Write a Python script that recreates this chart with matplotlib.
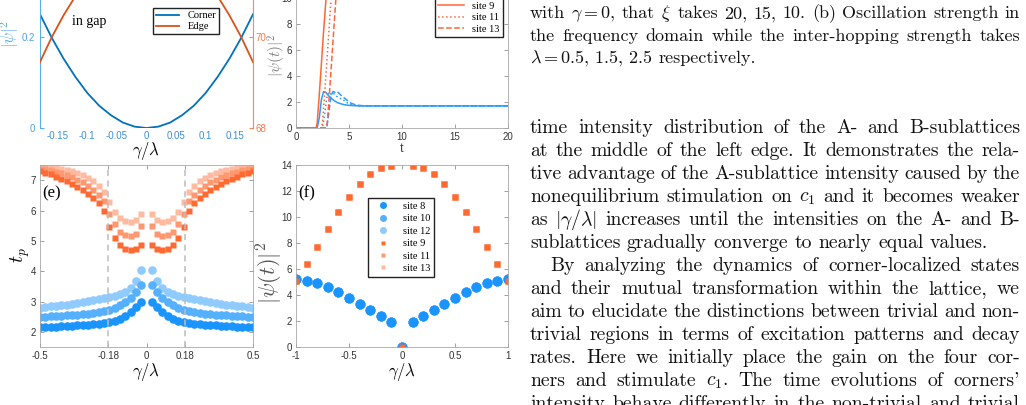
import matplotlib
matplotlib.use('Agg')

import numpy as np
import matplotlib.pyplot as plt

plt.rcParams['font.family'] = 'Liberation Sans'
plt.rcParams['mathtext.fontset'] = 'cm'
plt.rcParams['axes.unicode_minus'] = False

W, H = 1026, 405

# corner / edge states versus gamma/lambda (top left)
gam_d = np.array([-0.18, -0.16, -0.14, -0.12, -0.10, -0.08, -0.06, -0.04, -0.02, 0.0,
                  0.02, 0.04, 0.06, 0.08, 0.10, 0.12, 0.14, 0.16, 0.18])
corner = np.array([0.25, 0.198, 0.152, 0.112, 0.077, 0.049, 0.028, 0.012, 0.003, 0.0,
                   0.003, 0.012, 0.028, 0.049, 0.077, 0.112, 0.152, 0.198, 0.25])
edge = np.array([69.45, 70.0, 70.48, 70.9, 71.26, 71.55, 71.78, 71.94, 72.04, 72.07,
                 72.04, 71.94, 71.78, 71.55, 71.26, 70.9, 70.48, 70.0, 69.45])

# time evolution (top middle)
t8 = [0, 2.0, 2.2, 2.4, 2.6, 2.8, 3.0, 3.3, 3.6, 4.0, 4.5, 5.0, 6.0, 8, 20]
v8 = [0, 0, 0.8, 2.2, 2.8, 2.75, 2.55, 2.3, 2.1, 1.92, 1.8, 1.74, 1.7, 1.7, 1.7]
t10 = [0, 2.5, 2.7, 2.9, 3.1, 3.3, 3.5, 3.8, 4.1, 4.4, 4.8, 5.3, 6, 20]
v10 = [0, 0, 1.0, 2.3, 2.75, 2.6, 2.7, 2.45, 2.3, 2.2, 1.95, 1.78, 1.7, 1.7]
t12 = [0, 2.9, 3.1, 3.3, 3.5, 3.7, 3.9, 4.2, 4.5, 4.8, 5.2, 5.7, 6.5, 20]
v12 = [0, 0, 1.2, 2.5, 2.8, 2.75, 2.8, 2.55, 2.35, 2.15, 1.9, 1.76, 1.7, 1.7]
t9 = [0, 1.9, 2.0, 2.2, 2.4, 2.6, 2.8, 3.0, 3.2, 3.5, 4, 20]
v9 = [0, 0, 0.4, 2.6, 5.0, 7.4, 9.6, 11.5, 13.0, 14.0, 14.5, 14.5]
t11 = [0, 2.4, 2.5, 2.7, 2.9, 3.1, 3.3, 3.5, 3.8, 4.2, 20]
v11 = [0, 0, 0.4, 2.6, 5.0, 7.4, 9.8, 11.8, 13.5, 14.3, 14.5]
t13 = [0, 2.85, 2.95, 3.15, 3.35, 3.55, 3.75, 3.95, 4.2, 4.6, 20]
v13 = [0, 0, 0.4, 2.6, 5.0, 7.4, 9.8, 11.8, 13.5, 14.3, 14.5]

# (e) t_p, half side gamma = 0.025 ... 0.5 (mirrored to negative side)
gam_e = np.arange(1, 21) * 0.025
tp_b1 = [3.00, 2.82, 2.65, 2.52, 2.43, 2.36, 2.31, 2.28, 2.26, 2.25,
         2.23, 2.22, 2.21, 2.20, 2.19, 2.18, 2.17, 2.17, 2.16, 2.16]
tp_b2 = [3.53, 3.30, 3.10, 2.97, 2.87, 2.79, 2.73, 2.69, 2.65, 2.62,
         2.60, 2.58, 2.56, 2.55, 2.54, 2.53, 2.52, 2.51, 2.50, 2.50]
tp_b3 = [4.05, 3.68, 3.45, 3.32, 3.24, 3.19, 3.15, 3.12, 3.08, 3.05,
         3.02, 2.99, 2.96, 2.93, 2.90, 2.88, 2.86, 2.84, 2.82, 2.80]
tp_o1 = [4.87, 4.72, 4.70, 4.72, 4.85, 5.10, 5.45, 6.00, 6.25, 6.42,
         6.55, 6.67, 6.78, 6.88, 6.97, 7.05, 7.12, 7.19, 7.25, 7.30]
tp_o2 = [5.48, 5.22, 5.15, 5.18, 5.30, 5.55, 5.88, 6.30, 6.52, 6.68,
         6.82, 6.93, 7.02, 7.10, 7.17, 7.23, 7.28, 7.32, 7.36, 7.38]
tp_o3 = [5.90, 5.68, 5.62, 5.65, 5.75, 5.95, 6.28, 6.62, 6.82, 6.97,
         7.08, 7.17, 7.24, 7.30, 7.34, 7.37, 7.40, 7.42, 7.43, 7.44]

# (f) intensity versus gamma/lambda
gam_f = np.round(np.arange(-10, 11) * 0.1, 1)
int_blue = [5.25, 5.1, 4.9, 4.6, 4.2, 3.75, 3.3, 2.85, 2.35, 1.9, 0.0,
            1.9, 2.35, 2.85, 3.3, 3.75, 4.2, 4.6, 4.9, 5.1, 5.25]
int_orange = [5.1, 6.4, 7.7, 9.05, 10.35, 11.55, 12.55, 13.3, 13.8, 13.95, 0.0,
              13.95, 13.8, 13.3, 12.55, 11.55, 10.35, 9.05, 7.7, 6.4, 5.1]

blues = ['#1a94ff', '#55b0ff', '#8fcbff']
oranges = ['#ff6a33', '#ff9870', '#ffbba0']


def fx(x):
    return x / W


def fy(y):
    return 1 - y / H


def box_style(ax):
    for s in ax.spines.values():
        s.set_color('#a8a8a8')
        s.set_linewidth(0.6)
    ax.tick_params(direction='in', length=3, width=0.6, color='#909090',
                   labelsize=7, labelcolor='#333333', top=True, right=True, pad=3)


fig = plt.figure(figsize=(W / 100, H / 100), dpi=100)
serif = {'family': 'Liberation Serif', 'size': 7.5}

# ---- top left: corner / edge ----
axA = fig.add_axes([fx(40), fy(128), 213 / W, 182 / H])
lc, = axA.plot(gam_d, corner, color='#0072BD', lw=1.3)
axA.set_xlim(-0.18, 0.18)
axA.set_ylim(0, 0.4)
axA2 = axA.twinx()
le, = axA2.plot(gam_d, edge, color='#D95319', lw=1.3)
axA2.set_ylim(68, 72)
for s in ['top', 'bottom', 'right']:
    axA.spines[s].set_visible(False)
for s in ['top', 'bottom', 'left']:
    axA2.spines[s].set_visible(False)
axA.spines['left'].set_color('#5aaee6')
axA2.spines['right'].set_color('#f08a5d')
axA.set_yticks([0, 0.2], ['0', '0.2'])
axA.tick_params(axis='y', direction='in', length=3, color='#5aaee6', labelcolor='#4aa3e3', labelsize=7)
axA2.set_yticks([68, 70], ['68', '70'])
axA2.tick_params(axis='y', direction='in', length=3, color='#f08a5d', labelcolor='#ef7a4c',
                 labelsize=7, pad=2)
axA.set_xticks([-0.15, -0.1, -0.05, 0, 0.05, 0.1, 0.15],
               ['-0.15', '-0.1', '-0.05', '0', '0.05', '0.1', '0.15'])
axA.tick_params(axis='x', length=0, labelsize=7, labelcolor='#3b8fd6', pad=2)
axA2.legend([lc, le], ['Corner', 'Edge'], loc='upper left', bbox_to_anchor=(fx(153), fy(8)),
            bbox_transform=fig.transFigure, prop=serif, fancybox=False, edgecolor='#222222',
            framealpha=1, borderaxespad=0, handlelength=2.2, borderpad=0.3, labelspacing=0.15)
fig.text(fx(72), fy(22), 'in gap', family='Liberation Serif', size=10, va='center')
fig.text(fx(10), fy(34), r'$|\psi|^2$', rotation=90, color='#5aaee6', size=12, ha='center', va='center')
fig.text(fx(146), fy(151), r'$\gamma/\lambda$', size=12, ha='center', va='center')

# ---- top middle: time evolution ----
axB = fig.add_axes([fx(296), fy(128), 212 / W, 208 / H])
axB.plot(t8, v8, color='#2a9cff', lw=1.1, label='site 8')
axB.plot(t10, v10, color='#2a9cff', lw=1.1, ls=':', label='site 10')
axB.plot(t12, v12, color='#2a9cff', lw=1.1, ls='--', label='site 12')
axB.plot(t9, v9, color='#ff6633', lw=1.1, label='site 9')
axB.plot(t11, v11, color='#ff6633', lw=1.1, ls=':', label='site 11')
axB.plot(t13, v13, color='#ff6633', lw=1.1, ls='--', label='site 13')
axB.set_xlim(0, 20)
axB.set_ylim(0, 16)
axB.set_xticks([0, 5, 10, 15, 20])
axB.set_yticks(range(0, 11, 2))
box_style(axB)
axB.legend(loc='lower right', bbox_to_anchor=(fx(503), fy(37)), bbox_transform=fig.transFigure,
           prop=serif, fancybox=False, edgecolor='#222222', framealpha=1, borderaxespad=0,
           handlelength=2.5, borderpad=0.3, labelspacing=0.2)
fig.text(fx(277), fy(55), r'$|\psi(t)|^2$', rotation=90, color='#808080', size=11, ha='center', va='center')
fig.text(fx(402), fy(149), 't', color='#444444', size=9, ha='center', va='center')

# ---- (e) ----
axE = fig.add_axes([fx(40), fy(347), 213 / W, 182 / H])
ge = np.concatenate([-gam_e[::-1], gam_e])
for vals, c in zip([tp_o3, tp_o2, tp_o1], oranges[::-1]):
    axE.plot(ge, np.concatenate([vals[::-1], vals]), 's', color=c, ms=4.2, mec='none')
for vals, c in zip([tp_b3, tp_b2, tp_b1], blues[::-1]):
    axE.plot(ge, np.concatenate([vals[::-1], vals]), 'o', color=c, ms=6.2, mec='none')
axE.axvline(-0.18, color='#bdbdbd', ls='--', lw=1.1, dashes=(4, 3))
axE.axvline(0.18, color='#bdbdbd', ls='--', lw=1.1, dashes=(4, 3))
axE.set_xlim(-0.5, 0.5)
axE.set_ylim(1.5, 7.5)
axE.set_xticks([-0.5, -0.18, 0, 0.18, 0.5], ['-0.5', '-0.18', '0', '0.18', '0.5'])
axE.set_yticks([2, 3, 4, 5, 6, 7])
box_style(axE)
fig.text(fx(42), fy(193), '(e)', family='Liberation Serif', size=12, va='center')
fig.text(fx(20), fy(255), r'$t_p$', rotation=90, size=14, ha='center', va='center')
fig.text(fx(146), fy(372), r'$\gamma/\lambda$', size=12, ha='center', va='center')

# ---- (f) ----
axF = fig.add_axes([fx(296), fy(347), 212 / W, 182 / H])
for lab, c in zip(['site 8', 'site 10', 'site 12'], blues):
    axF.plot(gam_f, int_blue, 'o', color=c, ms=7.2, mec='none', label=lab)
for lab, c in zip(['site 9', 'site 11', 'site 13'], oranges):
    axF.plot(gam_f, int_orange, 's', color=c, ms=4.8, mec='none', label=lab)
axF.plot(gam_f, int_blue, 'o', color=blues[0], ms=7.2, mec='none')
axF.plot(gam_f, int_orange, 's', color=oranges[0], ms=4.8, mec='none')
axF.set_xlim(-1, 1)
axF.set_ylim(0, 14)
axF.set_xticks([-1, -0.5, 0, 0.5, 1], ['-1', '-0.5', '0', '0.5', '1'])
axF.set_yticks(range(0, 15, 2))
box_style(axF)
axF.legend(loc='upper left', bbox_to_anchor=(fx(368), fy(198)), bbox_transform=fig.transFigure,
           prop=serif, fancybox=False, edgecolor='#222222', framealpha=1, borderaxespad=0,
           handlelength=2.2, borderpad=0.35, labelspacing=0.3, markerscale=0.7)
fig.text(fx(298), fy(193), '(f)', family='Liberation Serif', size=12, va='center')
fig.text(fx(270), fy(273), r'$|\psi(t)|^2$', rotation=90, color='#555555', size=16, ha='center', va='center')
fig.text(fx(402), fy(372), r'$\gamma/\lambda$', size=12, ha='center', va='center')

# ---- right column text ----
caption = [
    ("with $\\gamma=0$, that $\\xi$ takes 20, 15, 10. (b) Oscillation strength in", 18.3, True),
    ("the frequency domain while the inter-hopping strength takes", 40.7, True),
    ("$\\lambda=0.5,\\,1.5,\\,2.5$ respectively.", 63.0, False),
]
body = [
    ("time intensity distribution of the A- and B-sublattices", True, 530),
    ("at the middle of the left edge. It demonstrates the rela-", True, 530),
    ("tive advantage of the A-sublattice intensity caused by the", True, 530),
    ("nonequilibrium stimulation on $c_1$ and it becomes weaker", True, 530),
    ("as $|\\gamma/\\lambda|$ increases until the intensities on the A- and B-", True, 530),
    ("sublattices gradually converge to nearly equal values.", False, 530),
    ("By analyzing the dynamics of corner-localized states", True, 550),
    ("and their mutual transformation within the lattice, we", True, 530),
    ("aim to elucidate the distinctions between trivial and non-", True, 530),
    ("trivial regions in terms of excitation patterns and decay", True, 530),
    ("rates. Here we initially place the gain on the four cor-", True, 530),
    ("ners and stimulate $c_1$. The time evolutions of corners'", True, 530),
    ("intensity behave differently in the non-trivial and trivial", True, 530),
]

renderer = fig.canvas.get_renderer()


def text_line(line, y, x0, justify, size):
    words = line.split(' ')
    objs = [fig.text(0, fy(y), w, family='cmr10', size=size, va='baseline', color='#111111')
            for w in words]
    widths = [o.get_window_extent(renderer).width for o in objs]
    if justify:
        gap = (1020 - x0 - sum(widths)) / (len(words) - 1)
    else:
        gap = size * 100 / 72 * 0.333
    x = x0
    for o, w in zip(objs, widths):
        o.set_x(fx(x))
        x += w + gap


for line, y, just in caption:
    text_line(line, y, 530, just, 13.0)
for i, (line, just, x0) in enumerate(body):
    text_line(line, 132.7 + 23 * i, x0, just, 14.2)

fig.savefig('out.png', dpi=100)
